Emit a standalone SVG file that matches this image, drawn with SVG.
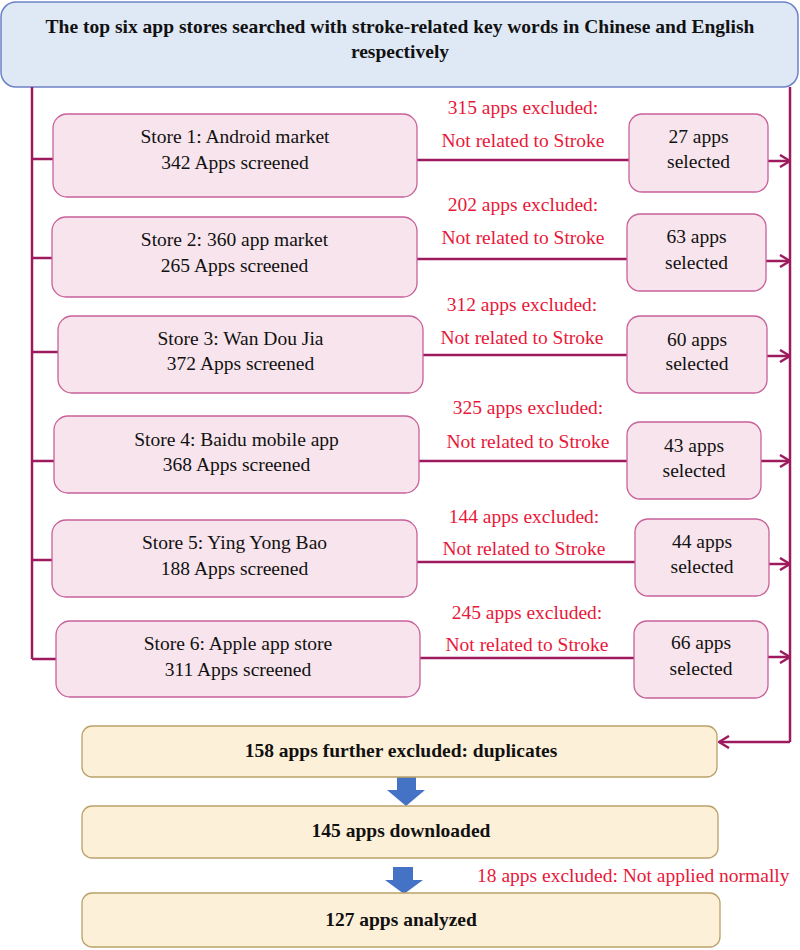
<svg xmlns="http://www.w3.org/2000/svg" width="800" height="950" viewBox="0 0 800 950" font-family="'Liberation Serif', Tinos, 'Times New Roman', 'DejaVu Serif', serif">
<style>
text{font-family:'Liberation Serif',Tinos,'Times New Roman','DejaVu Serif',serif;font-size:19.5px;fill:#111;text-anchor:middle}
.b{font-weight:bold}
.red{fill:#e8183a}
.store{fill:#f7e4ec;stroke:#c8609a;stroke-width:1.3}
.top{fill:#dfe9f6;stroke:#6c82c8;stroke-width:1.5}
.fin{fill:#fdf0d8;stroke:#b9a268;stroke-width:1.3}
.con{fill:none;stroke:#9e1a5e;stroke-width:2.5}
.arr{marker-end:url(#ah)}
.blue{fill:#4472c4}
</style>
<defs>
<marker id="ah" markerUnits="userSpaceOnUse" viewBox="0 0 12 14" refX="11" refY="7" markerWidth="12" markerHeight="14" orient="auto">
<path d="M1,1 L11,7 L1,13" fill="none" stroke="#9e1a5e" stroke-width="2.5"/>
</marker>
</defs>

<g id="top">
<rect class="top" x="1" y="2" width="797" height="85" rx="15"/>
<text class="b" x="400" y="32.5">The top six app stores searched with stroke-related key words in Chinese and English</text>
<text class="b" x="400" y="58">respectively</text>
</g>

<g id="connectors">
<path class="con" d="M32,87 V659"/>
<path class="con" d="M32,159 H53 M32,258 H52 M32,352 H58 M32,461 H54 M32,560 H52 M32,659 H56"/>
<path class="con" d="M417,160 H629 M417,259 H627 M423,355 H627 M419,461 H627 M417,562 H635 M420,658 H634"/>
<path class="con arr" d="M768,161 H790"/>
<path class="con arr" d="M766,261 H790"/>
<path class="con arr" d="M767,356 H790"/>
<path class="con arr" d="M761,461 H790"/>
<path class="con arr" d="M769,564 H790"/>
<path class="con arr" d="M768,657 H790"/>
<path class="con" d="M790,87 V742"/>
<path class="con arr" d="M790,742 H719"/>
<polygon class="blue" points="397,777 416,777 416,790 425,790 406,806 387,790 397,790"/>
<polygon class="blue" points="393,867 413,867 413,880 423,880 404,894 385,880 393,880"/>
</g>

<g id="store1">
<rect class="store" x="53" y="114" width="364" height="83" rx="14"/>
<text x="235" y="143">Store 1: Android market</text>
<text x="235" y="169">342 Apps screened</text>
</g>
<g id="excl1">
<text class="red" x="523" y="114">315 apps excluded:</text>
<text class="red" x="523" y="147">Not related to Stroke</text>
</g>
<g id="sel1">
<rect class="store" x="629" y="114" width="139" height="78" rx="13"/>
<text x="698.5" y="143">27 apps</text>
<text x="698.5" y="168">selected</text>
</g>

<g id="store2">
<rect class="store" x="52" y="217" width="365" height="80" rx="14"/>
<text x="234.5" y="246">Store 2: 360 app market</text>
<text x="234.5" y="272">265 Apps screened</text>
</g>
<g id="excl2">
<text class="red" x="523" y="211">202 apps excluded:</text>
<text class="red" x="523" y="244">Not related to Stroke</text>
</g>
<g id="sel2">
<rect class="store" x="627" y="214" width="139" height="77" rx="13"/>
<text x="696.5" y="243">63 apps</text>
<text x="696.5" y="269">selected</text>
</g>

<g id="store3">
<rect class="store" x="58" y="316" width="365" height="77" rx="14"/>
<text x="240.5" y="345">Store 3: Wan Dou Jia</text>
<text x="240.5" y="370">372 Apps screened</text>
</g>
<g id="excl3">
<text class="red" x="522" y="311">312 apps excluded:</text>
<text class="red" x="522" y="344">Not related to Stroke</text>
</g>
<g id="sel3">
<rect class="store" x="627" y="316" width="140" height="77" rx="13"/>
<text x="697" y="346">60 apps</text>
<text x="697" y="370">selected</text>
</g>

<g id="store4">
<rect class="store" x="54" y="416" width="365" height="77" rx="14"/>
<text x="236.5" y="446">Store 4: Baidu mobile app</text>
<text x="236.5" y="471">368 Apps screened</text>
</g>
<g id="excl4">
<text class="red" x="528" y="414">325 apps excluded:</text>
<text class="red" x="528" y="448">Not related to Stroke</text>
</g>
<g id="sel4">
<rect class="store" x="627" y="422" width="134" height="77" rx="13"/>
<text x="694" y="452">43 apps</text>
<text x="694" y="477">selected</text>
</g>

<g id="store5">
<rect class="store" x="52" y="520" width="365" height="77" rx="14"/>
<text x="234.5" y="549">Store 5: Ying Yong Bao</text>
<text x="234.5" y="575">188 Apps screened</text>
</g>
<g id="excl5">
<text class="red" x="524" y="523">144 apps excluded:</text>
<text class="red" x="524" y="555">Not related to Stroke</text>
</g>
<g id="sel5">
<rect class="store" x="635" y="519" width="134" height="77" rx="13"/>
<text x="702" y="548">44 apps</text>
<text x="702" y="573">selected</text>
</g>

<g id="store6">
<rect class="store" x="56" y="621" width="364" height="76" rx="14"/>
<text x="238" y="650">Store 6: Apple app store</text>
<text x="238" y="676">311 Apps screened</text>
</g>
<g id="excl6">
<text class="red" x="527" y="619">245 apps excluded:</text>
<text class="red" x="527" y="651">Not related to Stroke</text>
</g>
<g id="sel6">
<rect class="store" x="634" y="621" width="134" height="77" rx="13"/>
<text x="701" y="649">66 apps</text>
<text x="701" y="675">selected</text>
</g>

<g id="dup">
<rect class="fin" x="82" y="726" width="635" height="51" rx="10"/>
<text class="b" x="401" y="757">158 apps further excluded: duplicates</text>
</g>
<g id="down">
<rect class="fin" x="82" y="806" width="636" height="52" rx="10"/>
<text class="b" x="401" y="837">145 apps downloaded</text>
</g>
<g id="excl7">
<text class="red" x="477" y="882" style="text-anchor:start">18 apps excluded: Not applied normally</text>
</g>
<g id="analyzed">
<rect class="fin" x="82" y="893" width="638" height="54" rx="10"/>
<text class="b" x="401" y="926">127 apps analyzed</text>
</g>
</svg>
